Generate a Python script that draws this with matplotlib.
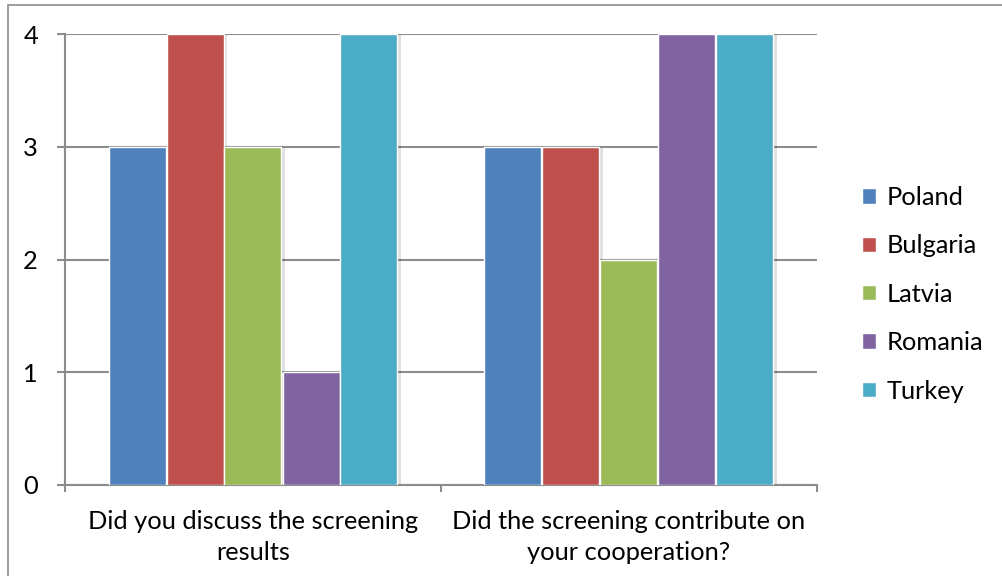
import matplotlib
matplotlib.use("Agg")
import matplotlib.pyplot as plt
import matplotlib.patheffects as pe
from matplotlib.patches import Rectangle
import numpy as np

questions = ["Did you discuss the screening\nresults",
             "Did the screening contribute on\nyour cooperation?"]
countries = ["Poland", "Bulgaria", "Latvia", "Romania", "Turkey"]
poland = [3, 3]
bulgaria = [4, 3]
latvia = [3, 2]
romania = [1, 4]
turkey = [4, 4]
colors = ["#4F81BD", "#C0504D", "#9BBB59", "#8064A2", "#4BACC6"]
y_ticks = [0, 1, 2, 3, 4]

plt.rcParams["font.family"] = ["Lato", "DejaVu Sans"]
FS = 18.3
PX = 72 / 100  # points per pixel at 100 dpi

fig = plt.figure(figsize=(10.02, 5.76), dpi=100)
ax = fig.add_axes([65 / 1002, 1 - 485 / 576, (817 - 65) / 1002, (485 - 34) / 576])

# Outer chart frame (only top and left edges fall inside the canvas)
fig.patches.append(Rectangle((8 / 1002, -0.1), 1.2, 1 - 5 / 576 + 0.1,
                             transform=fig.transFigure, fill=False,
                             edgecolor="#8c8c8c", linewidth=1.2, zorder=0))

series = [poland, bulgaria, latvia, romania, turkey]
x = np.arange(len(questions))
step = 58 / 376
width = 57 / 376
shadow = [pe.SimplePatchShadow(offset=(2.5, -1), shadow_rgbFace="#000000", alpha=0.12), pe.Normal()]
for i, (vals, name, col) in enumerate(zip(series, countries, colors)):
    bars = ax.bar(x + (i - 2) * step, vals, width=width, color=col,
                  edgecolor="white", linewidth=1.0, label=name, zorder=3)
    for b in bars:
        b.set_path_effects(shadow)

ax.set_xlim(-0.5, 1.5)
ax.set_ylim(0, 4)
ax.set_yticks(y_ticks)
ax.set_yticklabels([str(t) for t in y_ticks], fontsize=FS)
ax.yaxis.grid(True, color="#8c8c8c", linewidth=1.5, zorder=0)
ax.set_axisbelow(True)

for s in ["top", "right"]:
    ax.spines[s].set_visible(False)
for s in ["left", "bottom"]:
    ax.spines[s].set_color("#8c8c8c")
    ax.spines[s].set_linewidth(1.5)

ax.tick_params(axis="y", length=8 * PX, width=1.5, color="#8c8c8c", pad=19 * PX)
ax.set_xticks([-0.5, 0.5, 1.5])
ax.set_xticklabels([])
ax.tick_params(axis="x", length=7 * PX, width=1.5, color="#8c8c8c")
for xi, q in zip(x, questions):
    ax.text(xi, -0.22, q, ha="center", va="top", fontsize=FS,
            linespacing=1.44, transform=ax.transData)

leg = ax.legend(loc="upper left", bbox_to_anchor=(839 / 1002, 1 - 163 / 576),
                bbox_transform=fig.transFigure, frameon=False, fontsize=FS,
                handlelength=0.56, handleheight=0.56, handletextpad=0.4,
                labelspacing=1.0)
for h in leg.legend_handles:
    h.set_path_effects([])
    h.set_edgecolor("white")

fig.savefig("out.png", dpi=100, facecolor="white")
